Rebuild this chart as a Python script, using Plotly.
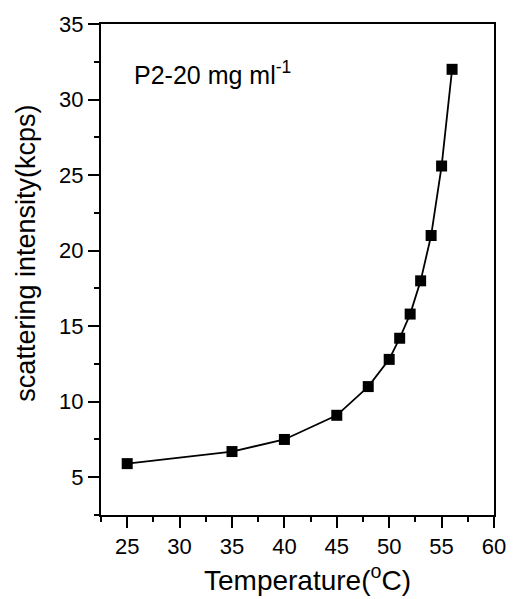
import plotly.graph_objects as go

temperature = [25, 35, 40, 45, 48, 50, 51, 52, 53, 54, 55, 56]
intensity = [5.9, 6.7, 7.5, 9.1, 11.0, 12.8, 14.2, 15.8, 18.0, 21.0, 25.6, 32.0]

FONT = "Liberation Sans, Arial, sans-serif"

fig = go.Figure()
fig.add_trace(go.Scatter(
    x=temperature, y=intensity, mode="lines+markers",
    line=dict(color="black", width=1.8),
    marker=dict(symbol="square", size=11, color="black"),
    showlegend=False,
))

axis_common = dict(
    showline=True, linecolor="black", linewidth=2, mirror=True,
    ticks="outside", ticklen=11, tickwidth=2, tickcolor="black",
    showgrid=False, zeroline=False,
    tickfont=dict(family=FONT, size=22, color="black"),
)

fig.update_xaxes(
    range=[22.5, 60], tickmode="linear", tick0=25, dtick=5,
    minor=dict(ticks="outside", ticklen=5, tickwidth=2, tickcolor="black", dtick=2.5, tick0=22.5),
    **axis_common,
)
fig.update_yaxes(
    range=[2.5, 35], tickmode="linear", tick0=5, dtick=5,
    minor=dict(ticks="outside", ticklen=5, tickwidth=2, tickcolor="black", dtick=2.5, tick0=2.5),
    **axis_common,
)

# axis titles
fig.add_annotation(
    x=0.526, y=-0.128, xref="paper", yref="paper", xanchor="center", yanchor="middle",
    text="Temperature(<sup>o</sup>C)", showarrow=False,
    font=dict(family=FONT, size=28, color="black"),
)
fig.add_annotation(
    x=-0.19, y=0.533, xref="paper", yref="paper", xanchor="center", yanchor="middle",
    text="scattering intensity(kcps)", showarrow=False, textangle=-90,
    font=dict(family=FONT, size=27, color="black"),
)

fig.add_annotation(
    x=0.08, y=0.90, xref="paper", yref="paper", xanchor="left", yanchor="middle",
    text="P2-20 mg ml<sup>-1</sup>", showarrow=False,
    font=dict(family=FONT, size=25, color="black"),
)

fig.update_layout(
    width=518, height=599,
    margin=dict(l=101, r=18, t=23, b=84),
    plot_bgcolor="white", paper_bgcolor="white",
)

fig.write_html("out.html")
